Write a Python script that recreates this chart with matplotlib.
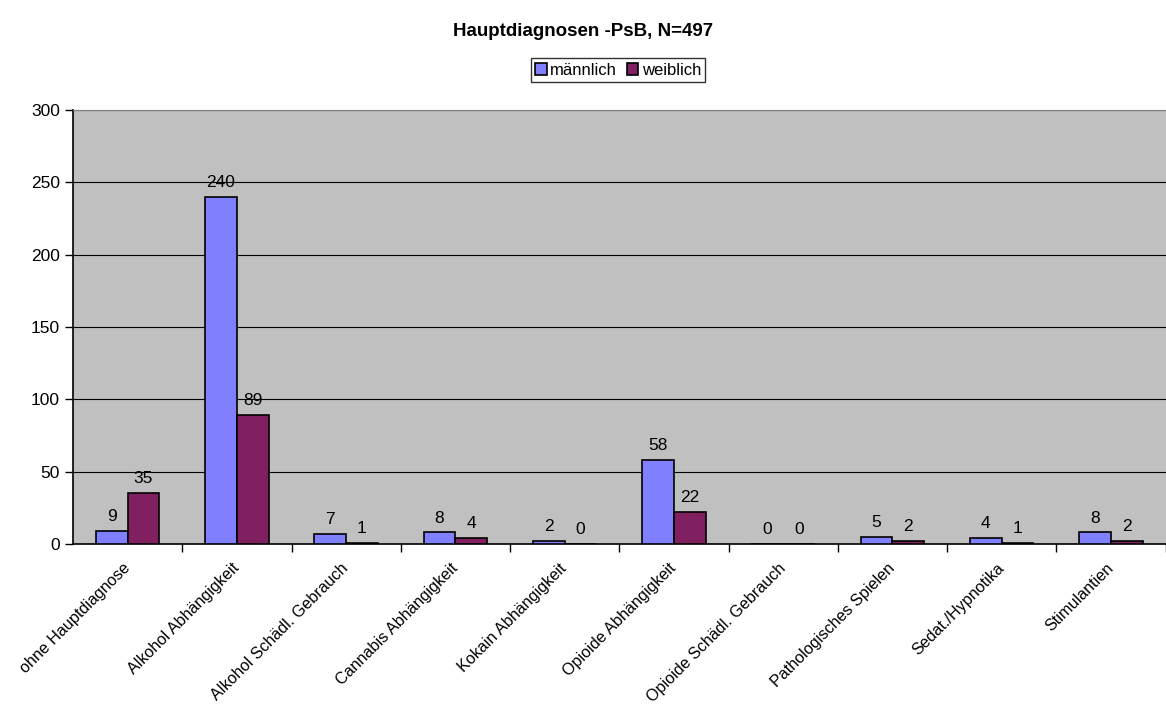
import numpy as np
import matplotlib.pyplot as plt

plt.rcParams['font.family'] = ['Liberation Sans', 'DejaVu Sans']

categories = ["ohne Hauptdiagnose", "Alkohol Abhängigkeit", "Alkohol Schädl. Gebrauch",
              "Cannabis Abhängigkeit", "Kokain Abhängigkeit", "Opioide Abhängigkeit",
              "Opioide Schädl. Gebrauch", "Pathologisches Spielen", "Sedat./Hypnotika",
              "Stimulantien"]
maennlich = [9, 240, 7, 8, 2, 58, 0, 5, 4, 8]
weiblich = [35, 89, 1, 4, 0, 22, 0, 2, 1, 2]

fig = plt.figure(figsize=(11.66, 7.08), dpi=100)
ax = fig.add_axes([0.0626, 0.2316, 0.937, 0.613])
ax.set_facecolor("#C0C0C0")

x = np.arange(len(categories))
w = 0.29
b1 = ax.bar(x - w / 2, maennlich, w, color="#8080FF", edgecolor="black", linewidth=1.2, label="männlich", zorder=3)
b2 = ax.bar(x + w / 2, weiblich, w, color="#802060", edgecolor="black", linewidth=1.2, label="weiblich", zorder=3)

# Werte über den Balken
for bars, vals in [(b1, maennlich), (b2, weiblich)]:
    for r, v in zip(bars, vals):
        ax.annotate(str(v), (r.get_x() + r.get_width() / 2, v), xytext=(0, 5),
                    textcoords="offset points", ha="center", va="bottom", fontsize=12.5)

ax.set_xlim(-0.5, len(categories) - 0.5)
ax.set_ylim(0, 300)
ax.set_yticks(np.arange(0, 301, 50))
ax.yaxis.grid(True, color="black", linewidth=0.8, zorder=0)
ax.set_axisbelow(True)

ax.set_xticks(x - 0.05)
ax.set_xticklabels(categories, rotation=45, ha="right", rotation_mode="anchor", fontsize=11.6)
ax.tick_params(axis="x", length=0, pad=12)
ax.set_xticks(np.arange(len(categories)) + 0.5, minor=True)
ax.tick_params(axis="x", which="minor", length=6, width=1)
ax.tick_params(axis="y", length=6, width=1, labelsize=12.5)

ax.spines["top"].set_color("gray")
ax.spines["right"].set_visible(False)
ax.spines["left"].set_linewidth(1.2)
ax.spines["bottom"].set_linewidth(1.2)

fig.suptitle("Hauptdiagnosen -PsB, N=497", y=0.968, fontsize=13.5, fontweight="bold")
fig.legend(loc="center", bbox_to_anchor=(0.53, 0.901), ncol=2, fontsize=12,
           frameon=True, fancybox=False, edgecolor="black", handlelength=0.7,
           handleheight=0.7, handletextpad=0.2, columnspacing=0.6, borderpad=0.25)

fig.savefig("out.png", dpi=100)
